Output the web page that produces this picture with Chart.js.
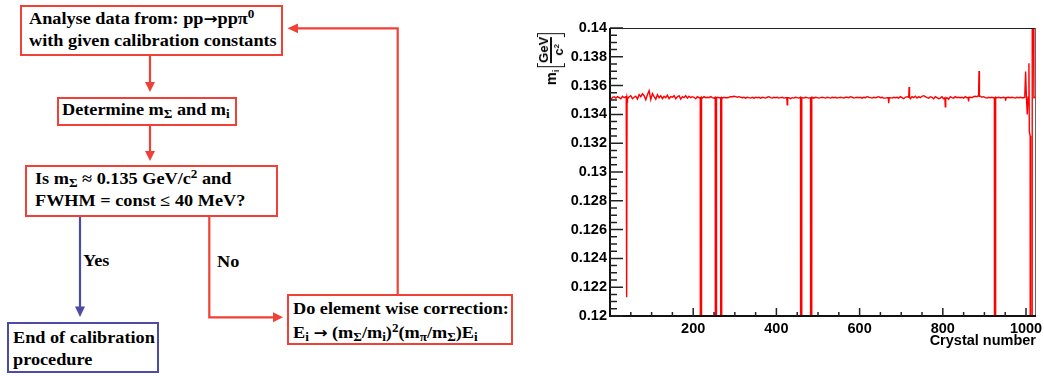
<!DOCTYPE html>
<html>
<head>
<meta charset="utf-8">
<script src="https://cdn.jsdelivr.net/npm/chart.js@4.4.1/dist/chart.umd.min.js"></script>
<style>
  html, body { margin: 0; padding: 0; background: #fff; }
  #page { position: relative; width: 1044px; height: 376px; overflow: hidden; }
  .box { position: absolute; box-sizing: border-box; border: 2px solid #ef4136; }
  .box.blue { border-color: #4b4ba8; }
  .t { position: absolute; font: bold 16.3px 'Liberation Serif', 'Times New Roman', serif; line-height: 16px;
       white-space: nowrap; transform: scaleX(1.12); transform-origin: 0 0; color: #000; }
  .t sub, .t sup { font-size: 0.72em; line-height: 0; }
  .t sub { vertical-align: -0.28em; }
  .t sup { vertical-align: 0.5em; }
  .t .arr { font-family: 'DejaVu Sans', sans-serif; font-weight: bold; font-size: 15px; line-height: 0; }
  #flow { position: absolute; left: 0; top: 0; }
  #plot { position: absolute; left: 530px; top: 0; }
  #ytitle { position: absolute; left: 551px; top: 58.5px; display: flex; align-items: center; gap: 3px;
            font: bold 14.5px 'Liberation Sans', Arial, sans-serif; color: #000; white-space: nowrap;
            transform: translate(-50%, -50%) rotate(-90deg); }
  #ytitle sub { font-size: 0.6em; line-height: 0; vertical-align: -0.3em; }
  #ytitle sup { font-size: 0.6em; line-height: 0; vertical-align: 0.55em; }
  .brk { position: relative; display: inline-flex; align-items: center; padding: 0 4px; height: 28px; }
  .brk::before, .brk::after { content: ''; position: absolute; top: 0; bottom: 0; width: 3px; border: 1.5px solid #111; }
  .brk::before { left: 0; border-right: none; }
  .brk::after { right: 0; border-left: none; }
  .frac { display: inline-flex; flex-direction: column; align-items: center; font-size: 13px; line-height: 13px; }
  .frac .bar { align-self: stretch; height: 1.5px; background: #111; margin: 0.5px 0; }
</style>
</head>
<body>
<div id="page">
  <svg id="flow" width="530" height="376" xmlns="http://www.w3.org/2000/svg">
    <g stroke="#ef4136" stroke-width="2.2" fill="none">
      <line x1="150" y1="56" x2="150" y2="83"/>
      <line x1="150" y1="126" x2="150" y2="152"/>
      <polyline points="209.3,217 209.3,317.3 274,317.3"/>
      <polyline points="397.7,294 397.7,28.3 297,28.3"/>
    </g>
    <g fill="#ef4136">
      <polygon points="145,82 155,82 150,92"/>
      <polygon points="145,151 155,151 150,161"/>
      <polygon points="273,312.3 273,322.3 283,317.3"/>
      <polygon points="298,23.5 298,33.3 287.5,28.3"/>
    </g>
    <line x1="80" y1="217" x2="80" y2="308" stroke="#4b4ba8" stroke-width="2.2"/>
    <polygon points="75,306.5 85,306.5 80,317" fill="#4b4ba8"/>
  </svg>

  <div class="box" style="left:20px; top:5px; width:263px; height:51px"></div>
  <div class="t" style="left:29px; top:10.5px">Analyse data from: pp<span class="arr">→</span>ppπ<sup>0</sup></div>
  <div class="t" style="left:29px; top:33.2px">with given calibration constants</div>

  <div class="box" style="left:57px; top:97px; width:180px; height:29px"></div>
  <div class="t" style="left:62px; top:101.5px">Determine m<sub>Σ</sub> and m<sub>i</sub></div>

  <div class="box" style="left:25px; top:165px; width:253px; height:52px"></div>
  <div class="t" style="left:35px; top:170.5px">Is m<sub>Σ</sub> ≈ 0.135 GeV/c<sup>2</sup> and</div>
  <div class="t" style="left:35px; top:193.2px">FWHM = const ≤ 40 MeV?</div>

  <div class="t" style="left:83px; top:252.5px">Yes</div>
  <div class="t" style="left:216.7px; top:253.5px">No</div>

  <div class="box blue" style="left:7px; top:322px; width:152px; height:51px"></div>
  <div class="t" style="left:12.7px; top:329.5px">End of calibration</div>
  <div class="t" style="left:12.7px; top:351.5px">procedure</div>

  <div class="box" style="left:287px; top:294px; width:226px; height:51px"></div>
  <div class="t" style="left:292.7px; top:300.5px">Do element wise correction:</div>
  <div class="t" style="left:292.7px; top:324.8px">E<sub>i</sub> <span class="arr">→</span> (m<sub>Σ</sub>/m<sub>i</sub>)<sup>2</sup>(m<sub>π</sub>/m<sub>Σ</sub>)E<sub>i</sub></div>

  <canvas id="plot" width="514" height="376"></canvas>
  <div id="ytitle"><span>m<sub>i</sub></span><span class="brk"><span class="frac"><span>GeV</span><span class="bar"></span><span>c<sup>2</sup></span></span></span></div>
</div>

<script>
// pi0 peak position per crystal [GeV/c^2], read every 4th crystal (2, 6, 10, ... 994)
const sampleMass = [
  0.13502, 0.13519, 0.13523, 0.13513, 0.13523, 0.13516, 0.13509, 0.13526, 0.13516, 0.13523,
  0.13509, 0.13523, 0.13530, 0.13509, 0.13519, 0.13526, 0.13506, 0.13537, 0.13523, 0.13544,
  0.13530, 0.13502, 0.13537, 0.13565, 0.13502, 0.13544, 0.13523, 0.13506, 0.13537, 0.13516,
  0.13530, 0.13509, 0.13526, 0.13516, 0.13533, 0.13509, 0.13523, 0.13519, 0.13530, 0.13509,
  0.13523, 0.13530, 0.13506, 0.13523, 0.13516, 0.13530, 0.13513, 0.13526, 0.13516, 0.13523,
  0.13519, 0.13509, 0.13523, 0.13516, 0.13519, 0.13513, 0.13523, 0.13516, 0.13519, 0.13516,
  0.13523, 0.13516, 0.13513, 0.13523, 0.13519, 0.13516, 0.13516, 0.13513, 0.13519, 0.13516,
  0.13516, 0.13519, 0.13523, 0.13523, 0.13526, 0.13523, 0.13519, 0.13523, 0.13519, 0.13516,
  0.13519, 0.13513, 0.13519, 0.13516, 0.13513, 0.13519, 0.13513, 0.13519, 0.13516, 0.13519,
  0.13513, 0.13519, 0.13516, 0.13513, 0.13519, 0.13523, 0.13516, 0.13513, 0.13519, 0.13516,
  0.13519, 0.13513, 0.13516, 0.13519, 0.13513, 0.13516, 0.13519, 0.13516, 0.13509, 0.13516,
  0.13513, 0.13519, 0.13516, 0.13513, 0.13519, 0.13516, 0.13513, 0.13519, 0.13516, 0.13513,
  0.13516, 0.13519, 0.13513, 0.13519, 0.13516, 0.13513, 0.13516, 0.13519, 0.13516, 0.13513,
  0.13519, 0.13516, 0.13513, 0.13519, 0.13516, 0.13519, 0.13513, 0.13516, 0.13519, 0.13516,
  0.13513, 0.13519, 0.13519, 0.13516, 0.13523, 0.13519, 0.13513, 0.13516, 0.13519, 0.13516,
  0.13519, 0.13513, 0.13519, 0.13516, 0.13523, 0.13519, 0.13516, 0.13513, 0.13519, 0.13516,
  0.13519, 0.13523, 0.13516, 0.13519, 0.13513, 0.13513, 0.13516, 0.13519, 0.13516, 0.13513,
  0.13519, 0.13516, 0.13519, 0.13513, 0.13523, 0.13516, 0.13509, 0.13519, 0.13523, 0.13519,
  0.13509, 0.13523, 0.13516, 0.13526, 0.13513, 0.13523, 0.13516, 0.13526, 0.13530, 0.13523,
  0.13516, 0.13513, 0.13523, 0.13519, 0.13509, 0.13523, 0.13516, 0.13509, 0.13513, 0.13523,
  0.13509, 0.13502, 0.13516, 0.13506, 0.13523, 0.13516, 0.13513, 0.13523, 0.13516, 0.13519,
  0.13516, 0.13519, 0.13513, 0.13523, 0.13516, 0.13513, 0.13519, 0.13516, 0.13523, 0.13526,
  0.13523, 0.13530, 0.13526, 0.13519, 0.13523, 0.13516, 0.13513, 0.13519, 0.13516, 0.13519,
  0.13516, 0.13513, 0.13516, 0.13519, 0.13516, 0.13516, 0.13519, 0.13513, 0.13516, 0.13519,
  0.13516, 0.13519, 0.13516, 0.13513, 0.13519, 0.13516, 0.13519, 0.13516, 0.13516
];

// single crystals that stand out: dead channels (0), dips and spikes
const featureCrystals = [
  39, 40, 41, 217, 218, 219, 220, 253, 254, 255, 256, 266, 267, 268, 269,
  425, 426, 427, 458, 459, 460, 461, 482, 483, 484, 485, 669, 670, 671,
  718, 719, 720, 805, 806, 807, 861, 862, 863, 886, 887, 888,
  924, 925, 926, 927, 950, 951, 952,
  997, 999, 1001, 1003, 1005, 1007, 1008, 1010, 1011, 1014, 1015, 1017, 1019, 1021, 1023
];
const featureMass = [
  0.13516, 0.1213, 0.13519, 0.13516, 0, 0, 0.13519, 0.13519, 0, 0, 0.13516, 0.13516, 0, 0, 0.13516,
  0.13516, 0.13467, 0.13516, 0.13519, 0, 0, 0.13516, 0.13516, 0, 0, 0.13519, 0.13516, 0.13478, 0.13516,
  0.13519, 0.1359, 0.13523, 0.13516, 0.13452, 0.13509, 0.13516, 0.1349, 0.13519, 0.1353, 0.13701, 0.13526,
  0.13516, 0, 0, 0.13519, 0.13516, 0.13495, 0.13516,
  0.13519, 0.13697, 0.13516, 0.1340, 0.13519, 0.13755, 0.1328, 0.1325, 0, 0, 0.145, 0.145, 0.13516, 0.13519, 0.13516
];

const xTickLabels = [200, 400, 600, 800, 1000];
const yTickLabels = [0.12, 0.122, 0.124, 0.126, 0.128, 0.13, 0.132, 0.134, 0.136, 0.138, 0.14];

const featureSet = new Set(featureCrystals);
const points = sampleMass
  .map((m, i) => ({ x: 4 * i + 2, y: m }))
  .filter(p => !featureSet.has(p.x))
  .concat(featureCrystals.map((c, i) => ({ x: c, y: featureMass[i] })))
  .sort((a, b) => a.x - b.x);

// ROOT-like frame: thick axes, ticks pointing into the pad
const frameAndTicks = {
  id: 'frameAndTicks',
  afterDatasetsDraw(chart) {
    const { ctx, chartArea: a, scales: { x, y } } = chart;
    ctx.save();
    ctx.lineWidth = 1;
    ctx.strokeStyle = '#222';
    ctx.beginPath();
    ctx.moveTo(a.left, a.top + 0.5);
    ctx.lineTo(a.right, a.top + 0.5);
    ctx.stroke();
    ctx.strokeStyle = '#666';
    ctx.beginPath();
    ctx.moveTo(a.right - 0.5, a.top);
    ctx.lineTo(a.right - 0.5, a.bottom);
    ctx.stroke();

    ctx.strokeStyle = '#111';
    ctx.lineWidth = 2;
    ctx.beginPath();
    ctx.moveTo(a.left, a.top);
    ctx.lineTo(a.left, a.bottom);
    ctx.lineTo(a.right, a.bottom);
    ctx.stroke();

    ctx.lineWidth = 1.5;
    ctx.strokeStyle = '#222';
    ctx.beginPath();
    for (let i = 0; i <= 40; i++) {
      const py = y.getPixelForValue(0.12 + i * 0.0005);
      const len = i % 4 === 0 ? 13 : 7;
      ctx.moveTo(a.left, py);
      ctx.lineTo(a.left + len, py);
    }
    for (let c = 50; c <= 1000; c += 50) {
      const px = x.getPixelForValue(c);
      const len = c % 200 === 0 ? 8 : 4;
      ctx.moveTo(px, a.bottom);
      ctx.lineTo(px, a.bottom - len);
    }
    ctx.stroke();
    ctx.restore();
  }
};

const tickFont = { family: "'Liberation Sans', Arial, sans-serif", size: 14.5, weight: 'bold' };

new Chart(document.getElementById('plot'), {
  type: 'line',
  data: {
    datasets: [{
      data: points,
      borderColor: '#ff0000',
      borderWidth: 1.4,
      pointRadius: 0,
      tension: 0
    }]
  },
  options: {
    responsive: false,
    animation: false,
    events: [],
    layout: { padding: { top: 28, right: 8, left: 0, bottom: 0 } },
    plugins: { legend: { display: false }, tooltip: { enabled: false } },
    scales: {
      x: {
        type: 'linear',
        min: 0,
        max: 1024,
        grid: { display: false, drawTicks: false },
        border: { display: false },
        afterBuildTicks: s => { s.ticks = xTickLabels.map(v => ({ value: v })); },
        afterFit: s => { s.height = 60; s.paddingLeft = 0; s.paddingRight = 0; },
        ticks: { padding: 4, font: tickFont, color: '#000', maxRotation: 0, autoSkip: false, callback: v => String(v) },
        title: {
          display: true,
          text: 'Crystal number',
          align: 'end',
          color: '#000',
          font: tickFont,
          padding: { top: 0, bottom: 26 }
        }
      },
      y: {
        min: 0.12,
        max: 0.14,
        grid: { display: false, drawTicks: false },
        border: { display: false },
        afterBuildTicks: s => { s.ticks = yTickLabels.map(v => ({ value: v })); },
        afterFit: s => { s.width = 80; s.paddingTop = 0; s.paddingBottom = 0; },
        ticks: { padding: 3, font: tickFont, color: '#000', autoSkip: false, callback: v => String(v) }
      }
    }
  },
  plugins: [frameAndTicks]
});
</script>
</body>
</html>
